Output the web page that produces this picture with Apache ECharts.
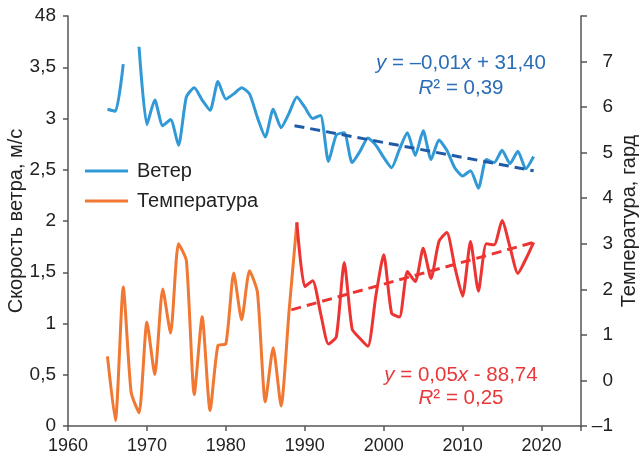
<!DOCTYPE html>
<html>
<head>
<meta charset="utf-8">
<script src="https://cdn.jsdelivr.net/npm/echarts@6/dist/echarts.min.js"></script>
<style>
html,body{margin:0;padding:0;background:#fff;}
#c{width:642px;height:458px;}
</style>
</head>
<body>
<div id="c"></div>
<script>
// ---- data ----
const windYears = [1965,1966,1967,1968,1969,1970,1971,1972,1973,1974,1975,1976,1977,1978,1979,1980,1981,1982,1983,1984,1985,1986,1987,1988,1989,1990,1991,1992,1993,1994,1995,1996,1997,1998,1999,2000,2001,2002,2003,2004,2005,2006,2007,2008,2009,2010,2011,2012,2013,2014,2015,2016,2017,2018,2019];
const windValues = [3.09,3.07,3.53,null,3.70,2.94,3.18,2.93,2.99,2.74,3.21,3.30,3.18,3.08,3.36,3.19,3.24,3.30,3.24,3.01,2.82,3.09,2.91,3.05,3.21,3.11,3.00,3.03,2.58,2.84,2.86,2.57,2.68,2.81,2.74,2.62,2.52,2.70,2.86,2.64,2.88,2.60,2.79,2.69,2.52,2.44,2.49,2.32,2.60,2.57,2.69,2.56,2.68,2.51,2.63];

const tempYearsEarly = [1965,1966,1967,1968,1969,1970,1971,1972,1973,1974,1975,1976,1977,1978,1979,1980,1981,1982,1983,1984,1985,1986,1987,1988,1989];
const tempValuesEarly = [0.53,-0.88,2.05,-0.26,-0.71,1.28,0.13,2.01,1.04,3.00,2.63,-0.31,1.40,-0.66,0.77,0.80,2.36,1.33,2.41,1.94,-0.47,0.72,-0.56,1.50,3.47];

const tempYearsLate = [1989,1990,1991,1992,1993,1994,1995,1996,1997,1998,1999,2000,2001,2002,2003,2004,2005,2006,2007,2008,2009,2010,2011,2012,2013,2014,2015,2016,2017,2018,2019];
const tempValuesLate = [3.47,2.06,2.19,1.48,0.80,0.96,2.59,1.13,0.92,0.75,1.85,2.76,1.48,1.39,2.39,2.17,2.90,2.24,3.05,3.25,2.50,1.85,3.05,1.96,3.00,2.98,3.51,2.93,2.35,2.66,3.03];

const windTrendYears = [1988.7, 2019];
const windTrendValues = [2.93, 2.49];
const tempTrendYears = [1988.3, 2019];
const tempTrendValues = [1.55, 3.03];

const xTicks = {min:1960, max:2025, interval:10};
const leftTicks = {min:0, max:4, interval:0.5};
const rightTicks = {min:-1, max:8, interval:1};

const windEq = '{i|y} = –0,01{i|x} + 31,40';
const windR2 = '{i|R}² = 0,39';
const tempEq = '{i|y} = 0,05{i|x} - 88,74';
const tempR2 = '{i|R}² = 0,25';

// ---- build ----
const zip = (xs, ys) => xs.map((x, i) => [x, ys[i]]);
const FONT = '"Liberation Sans", Arial, sans-serif';
const TXT = '#222';
const AX = '#555';

const chart = echarts.init(document.getElementById('c'), null, {renderer:'canvas'});

function eqText(text, y, color) {
  return {
    type: 'text', x: 461, y: y,
    style: {
      text: text, fill: color, font: '20.5px ' + FONT,
      align: 'center', verticalAlign: 'middle',
      rich: { i: { fontStyle: 'italic', fontSize: 20.5, fontFamily: FONT, fill: color } }
    },
    z: 100
  };
}

const option = {
  animation: false,
  backgroundColor: '#fff',
  textStyle: { fontFamily: FONT },
  grid: { left: 68, right: 61, top: 16, bottom: 32, containLabel: false, outerBoundsMode: 'none' },
  legend: {
    data: ['Ветер', 'Температура'],
    orient: 'vertical', left: 85, top: 161, padding: 0,
    itemWidth: 43, itemHeight: 3, itemGap: 10, icon: 'rect',
    textStyle: { fontSize: 20, color: TXT, fontFamily: FONT, lineHeight: 20, padding: [0,0,0,4] }
  },
  xAxis: {
    type: 'value', min: xTicks.min, max: xTicks.max, interval: xTicks.interval,
    axisLine: { show: true, lineStyle: { color: AX, width: 1.5 } },
    axisTick: { show: true, length: 5, lineStyle: { color: AX, width: 1.5 } },
    splitLine: { show: false },
    axisLabel: { fontSize: 18, color: TXT, margin: 11, fontFamily: FONT,
      formatter: v => (v % 10 === 0 ? String(v) : '') }
  },
  yAxis: [
    {
      type: 'value', position: 'left', min: leftTicks.min, max: leftTicks.max, interval: leftTicks.interval,
      name: 'Скорость ветра, м/с', nameLocation: 'middle', nameGap: 42, nameMoveOverlap: false,
      nameTextStyle: { fontSize: 20, color: TXT, fontFamily: FONT },
      axisLine: { show: true, lineStyle: { color: AX, width: 1.5 } },
      axisTick: { show: true, length: 5, lineStyle: { color: AX, width: 1.5 } },
      splitLine: { show: false },
      axisLabel: { fontSize: 19, color: TXT, margin: 12, fontFamily: FONT,
        formatter: v => (v === 4 ? '48' : String(v).replace('.', ',')) }
    },
    {
      type: 'value', position: 'right', min: rightTicks.min, max: rightTicks.max, interval: rightTicks.interval,
      name: 'Температура, гард', nameLocation: 'middle', nameGap: 38, nameMoveOverlap: false,
      nameTextStyle: { fontSize: 20, color: TXT, fontFamily: FONT },
      axisLine: { show: true, lineStyle: { color: AX, width: 1.5 } },
      axisTick: { show: true, length: 6, lineStyle: { color: AX, width: 1.5 } },
      splitLine: { show: false },
      axisLabel: { fontSize: 19, color: TXT, margin: 32, align: 'right', fontFamily: FONT,
        formatter: v => (v === 8 ? '' : (v < 0 ? '–' + Math.abs(v) : String(v))) }
    }
  ],
  series: [
    {
      name: 'Ветер', type: 'line', yAxisIndex: 0, data: zip(windYears, windValues),
      connectNulls: false, smooth: 0.2, symbol: 'none',
      lineStyle: { color: '#3199d6', width: 3 }, itemStyle: { color: '#3199d6' }, z: 3
    },
    {
      name: 'windTrend', type: 'line', yAxisIndex: 0, data: zip(windTrendYears, windTrendValues),
      symbol: 'none', lineStyle: { color: '#1f5ca8', width: 3, type: [10, 6] }, z: 4
    },
    {
      name: 'Температура', type: 'line', yAxisIndex: 1, data: zip(tempYearsEarly, tempValuesEarly),
      smooth: 0.2, symbol: 'none',
      lineStyle: { color: '#f07832', width: 3 }, itemStyle: { color: '#f07832' }, z: 3
    },
    {
      name: 'tempLate', type: 'line', yAxisIndex: 1, data: zip(tempYearsLate, tempValuesLate),
      smooth: 0.2, symbol: 'none',
      lineStyle: { color: '#ec3533', width: 3 }, itemStyle: { color: '#ec3533' }, z: 3
    },
    {
      name: 'tempTrend', type: 'line', yAxisIndex: 1, data: zip(tempTrendYears, tempTrendValues),
      symbol: 'none', lineStyle: { color: '#ec3533', width: 3, type: [10, 6] }, z: 4
    }
  ],
  graphic: [
    eqText(windEq, 63, '#2b6db6'),
    eqText(windR2, 88, '#2b6db6'),
    eqText(tempEq, 375, '#e8383a'),
    eqText(tempR2, 398, '#e8383a')
  ]
};
chart.setOption(option);
</script>
</body>
</html>
